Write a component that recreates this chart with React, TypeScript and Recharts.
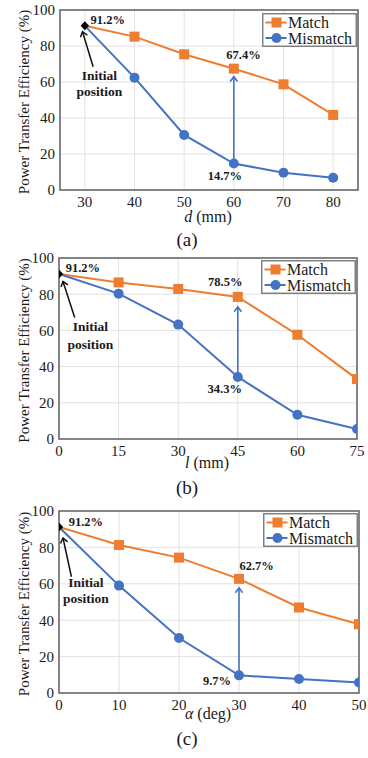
import React from 'react';
import {
  LineChart,
  Line,
  XAxis,
  YAxis,
  CartesianGrid,
  ReferenceArea,
  ReferenceLine,
  ReferenceDot,
  Legend,
} from 'recharts';

const ORANGE = '#ED7D31';
const BLUE = '#4472C4';
const TEXT = '#1a1a1a';
const SERIF = '"Liberation Serif", "Times New Roman", serif';

// ---- data ----
const dMm = [30, 40, 50, 60, 70, 80];
const matchByD = [91.2, 85.2, 75.4, 67.4, 58.7, 41.7];
const mismatchByD = [91.2, 62.4, 30.6, 14.7, 9.6, 6.8];

const lMm = [0, 15, 30, 45, 60, 75];
const matchByL = [91.2, 86.5, 82.9, 78.5, 57.6, 33.1];
const mismatchByL = [91.2, 80.3, 63.2, 34.3, 13.4, 5.5];

const alphaDeg = [0, 10, 20, 30, 40, 50];
const matchByAlpha = [91.2, 81.3, 74.4, 62.7, 47.0, 37.8];
const mismatchByAlpha = [91.2, 59.0, 30.2, 9.7, 7.7, 5.8];

const efficiencyTicks = [0, 20, 40, 60, 80, 100];
const seriesNames = ['Match', 'Mismatch'];
const captions = ['(a)', '(b)', '(c)'];
const initialLabel = ['Initial', 'position'];
const yTitle = 'Power Transfer Efficiency (%)';

// ---- helpers ----
function Arrow({ x1, y1, x2, y2, color, width = 1.5, head = 6 }: any) {
  const ang = Math.atan2(y2 - y1, x2 - x1);
  const a1 = ang + Math.PI - 0.65;
  const a2 = ang + Math.PI + 0.65;
  const w1x = x2 + head * Math.cos(a1);
  const w1y = y2 + head * Math.sin(a1);
  const w2x = x2 + head * Math.cos(a2);
  const w2y = y2 + head * Math.sin(a2);
  return (
    <g>
      <line x1={x1} y1={y1} x2={x2} y2={y2} stroke={color} strokeWidth={width} />
      <polyline
        points={`${w1x},${w1y} ${x2},${y2} ${w2x},${w2y}`}
        fill="none"
        stroke={color}
        strokeWidth={width}
      />
    </g>
  );
}

const squareDot = (props: any) => {
  const { cx, cy, index } = props;
  if (index === 0 || cx == null || cy == null) return <g key={`sq-${index}`} />;
  return <rect key={`sq-${index}`} x={cx - 5} y={cy - 5} width={10} height={10} fill={ORANGE} />;
};

const circleDot = (props: any) => {
  const { cx, cy, index } = props;
  if (cx == null || cy == null) return <g key={`ci-${index}`} />;
  if (index === 0) {
    return (
      <path
        key={`ci-${index}`}
        d={`M${cx},${cy - 4.5} L${cx + 4.2},${cy} L${cx},${cy + 4.5} L${cx - 4.2},${cy} Z`}
        fill="#000"
      />
    );
  }
  return <circle key={`ci-${index}`} cx={cx} cy={cy} r={5} fill={BLUE} />;
};

const LegendBox = () => (
  <svg width={95} height={34} style={{ display: 'block' }}>
    <rect x={0.75} y={0.75} width={93.5} height={32.5} fill="#fff" stroke="#7a7a7a" strokeWidth={1.4} />
    <line x1={3.5} x2={24.5} y1={9.5} y2={9.5} stroke={ORANGE} strokeWidth={2} />
    <rect x={9.5} y={4.5} width={10} height={10} fill={ORANGE} />
    <text x={26} y={15} fontFamily={SERIF} fontSize={16} fill={TEXT}>
      {seriesNames[0]}
    </text>
    <line x1={3.5} x2={24.5} y1={25} y2={25} stroke={BLUE} strokeWidth={2} />
    <circle cx={14.5} cy={25} r={5} fill={BLUE} />
    <text x={26} y={30.5} fontFamily={SERIF} fontSize={16} fill={TEXT}>
      {seriesNames[1]}
    </text>
  </svg>
);

const fmt = (v: number) => `${v.toFixed(1)}%`;

function Panel({ xs, match, mismatch, domain, xTicks, xTitle, caption, L }: any) {
  const rows = xs.map((x: number, i: number) => ({ x, match: match[i], mismatch: mismatch[i] }));
  const k = 3;
  const plotLeft = L.yw;
  const plotRight = 368 - L.margin.right;
  const plotTop = L.margin.top;
  const plotBottom = L.height - L.margin.bottom - 40;
  const plotMidY = (plotTop + plotBottom) / 2;
  const tickStyle = { fontSize: 15, fill: TEXT, fontFamily: SERIF };

  return (
    <div style={{ position: 'absolute', left: 0, top: L.top, width: 368, height: L.height }}>
      <LineChart width={368} height={L.height} data={rows} margin={L.margin}>
        <CartesianGrid stroke="#e2e2e2" strokeWidth={1} />
        <XAxis
          dataKey="x"
          type="number"
          domain={domain}
          ticks={xTicks}
          interval={0}
          allowDataOverflow
          height={40}
          tickLine={false}
          axisLine={false}
          tickSize={4}
          tickMargin={2}
          tick={tickStyle}
          label={{
            content: () => (
              <g>
                <text
                  x={(plotLeft + plotRight) / 2 - 1}
                  y={L.xTitleY}
                  textAnchor="middle"
                  fontFamily={SERIF}
                  fontSize={16}
                  fill={TEXT}
                >
                  {xTitle}
                </text>
                <text x={187} y={L.captionY} textAnchor="middle" fontFamily={SERIF} fontSize={19} fill={TEXT}>
                  {caption}
                </text>
              </g>
            ),
          }}
        />
        <YAxis
          type="number"
          domain={[0, 100]}
          ticks={efficiencyTicks}
          interval={0}
          width={L.yw}
          tickLine={false}
          axisLine={false}
          tickSize={3}
          tickMargin={2}
          tick={tickStyle}
          label={{
            content: () => (
              <text
                x={24}
                y={plotMidY + 2}
                transform={`rotate(-90, 24, ${plotMidY + 2})`}
                textAnchor="middle"
                dominantBaseline="central"
                fontFamily={SERIF}
                fontSize={15}
                fill={TEXT}
              >
                {yTitle}
              </text>
            ),
          }}
        />
        <ReferenceArea
          x1={domain[0]}
          x2={domain[1]}
          y1={0}
          y2={100}
          fill="none"
          fillOpacity={0}
          stroke="#626262"
          strokeWidth={1.5}
          ifOverflow="visible"
        />
        <Legend
          layout="horizontal"
          verticalAlign="middle"
          align="center"
          wrapperStyle={{ position: 'absolute', left: L.legend.left, top: L.legend.top, width: 95, height: 34 }}
          content={() => <LegendBox />}
        />
        <Line
          dataKey="match"
          name={seriesNames[0]}
          stroke={ORANGE}
          strokeWidth={2}
          dot={squareDot}
          activeDot={false}
          isAnimationActive={false}
        />
        <Line
          dataKey="mismatch"
          name={seriesNames[1]}
          stroke={BLUE}
          strokeWidth={2}
          dot={circleDot}
          activeDot={false}
          isAnimationActive={false}
        />
        <ReferenceLine
          segment={[
            { x: xs[k], y: mismatch[k] },
            { x: xs[k], y: match[k] },
          ]}
          ifOverflow="visible"
          shape={(p: any) => (
            <Arrow x1={p.x1} y1={p.y1 - L.arrowStart} x2={p.x2} y2={p.y2 + L.arrowGap} color={BLUE} width={1.6} head={6} />
          )}
        />
        <ReferenceDot
          x={xs[k]}
          y={match[k]}
          r={0}
          ifOverflow="visible"
          shape={(p: any) => (
            <text
              x={p.cx + L.matchLbl[0]}
              y={p.cy + L.matchLbl[1] + 4.4}
              textAnchor="middle"
              fontFamily={SERIF}
              fontWeight="bold"
              fontSize={12.5}
              fill={TEXT}
            >
              {fmt(match[k])}
            </text>
          )}
        />
        <ReferenceDot
          x={xs[k]}
          y={mismatch[k]}
          r={0}
          ifOverflow="visible"
          shape={(p: any) => (
            <text
              x={p.cx + L.misLbl[0]}
              y={p.cy + L.misLbl[1] + 4.4}
              textAnchor="middle"
              fontFamily={SERIF}
              fontWeight="bold"
              fontSize={12.5}
              fill={TEXT}
            >
              {fmt(mismatch[k])}
            </text>
          )}
        />
        <ReferenceDot
          x={xs[0]}
          y={match[0]}
          r={0}
          ifOverflow="visible"
          shape={(p: any) => (
            <g>
              <text
                x={p.cx + L.init.pct[0]}
                y={p.cy + L.init.pct[1] + 4.4}
                textAnchor="start"
                fontFamily={SERIF}
                fontWeight="bold"
                fontSize={12.5}
                fill={TEXT}
              >
                {fmt(match[0])}
              </text>
              <text
                x={p.cx + L.init.txt1[0]}
                y={p.cy + L.init.txt1[1] + 4.8}
                textAnchor="middle"
                fontFamily={SERIF}
                fontWeight="bold"
                fontSize={13.5}
                fill={TEXT}
              >
                {initialLabel[0]}
              </text>
              <text
                x={p.cx + L.init.txt2[0]}
                y={p.cy + L.init.txt2[1] + 4.8}
                textAnchor="middle"
                fontFamily={SERIF}
                fontWeight="bold"
                fontSize={13.5}
                fill={TEXT}
              >
                {initialLabel[1]}
              </text>
              <Arrow
                x1={p.cx + L.init.tail[0]}
                y1={p.cy + L.init.tail[1]}
                x2={p.cx + L.init.head[0]}
                y2={p.cy + L.init.head[1]}
                color="#111"
                width={1.5}
                head={6}
              />
            </g>
          )}
        />
      </LineChart>
    </div>
  );
}

const layoutA = {
  top: 0,
  height: 250,
  margin: { top: 10, right: 10, bottom: 20, left: 0 },
  yw: 60,
  legend: { left: 262, top: 13 },
  xTitleY: 222,
  captionY: 246,
  init: { pct: [5.7, -6], txt1: [14.5, 49], txt2: [14.5, 65], tail: [8.3, 41], head: [-2.3, 5.9] },
  matchLbl: [9.7, -14.4],
  misLbl: [-9, 12],
  arrowGap: 8,
  arrowStart: 0,
};

const layoutB = {
  top: 250,
  height: 250,
  margin: { top: 8, right: 11, bottom: 21, left: 0 },
  yw: 59,
  legend: { left: 261, top: 10 },
  xTitleY: 218,
  captionY: 244,
  init: { pct: [6.7, -6], txt1: [31.5, 52.5], txt2: [31.5, 70], tail: [15.7, 43.5], head: [4, 7.5] },
  matchLbl: [-12.6, -15],
  misLbl: [-13, 11.5],
  arrowGap: 10,
  arrowStart: 4,
};

const layoutC = {
  top: 500,
  height: 258,
  margin: { top: 11, right: 9, bottom: 25, left: 0 },
  yw: 59,
  legend: { left: 263, top: 13 },
  xTitleY: 219,
  captionY: 245,
  init: { pct: [9.7, -5.3], txt1: [27, 55], txt2: [27, 71], tail: [12.4, 49.7], head: [4, 11] },
  matchLbl: [17.6, -13.3],
  misLbl: [-22, 5],
  arrowGap: 9,
  arrowStart: 0,
};

export default function App() {
  return (
    <div style={{ position: 'absolute', left: 0, top: 0, width: 368, height: 758, background: '#fff' }}>
      <Panel
        xs={dMm}
        match={matchByD}
        mismatch={mismatchByD}
        domain={[25, 85]}
        xTicks={dMm}
        xTitle={
          <>
            <tspan fontStyle="italic">d</tspan>
            <tspan> (mm)</tspan>
          </>
        }
        caption={captions[0]}
        L={layoutA}
      />
      <Panel
        xs={lMm}
        match={matchByL}
        mismatch={mismatchByL}
        domain={[0, 75]}
        xTicks={lMm}
        xTitle={
          <>
            <tspan fontStyle="italic">l</tspan>
            <tspan> (mm)</tspan>
          </>
        }
        caption={captions[1]}
        L={layoutB}
      />
      <Panel
        xs={alphaDeg}
        match={matchByAlpha}
        mismatch={mismatchByAlpha}
        domain={[0, 50]}
        xTicks={alphaDeg}
        xTitle={
          <>
            <tspan fontStyle="italic">α</tspan>
            <tspan> (deg)</tspan>
          </>
        }
        caption={captions[2]}
        L={layoutC}
      />
    </div>
  );
}
